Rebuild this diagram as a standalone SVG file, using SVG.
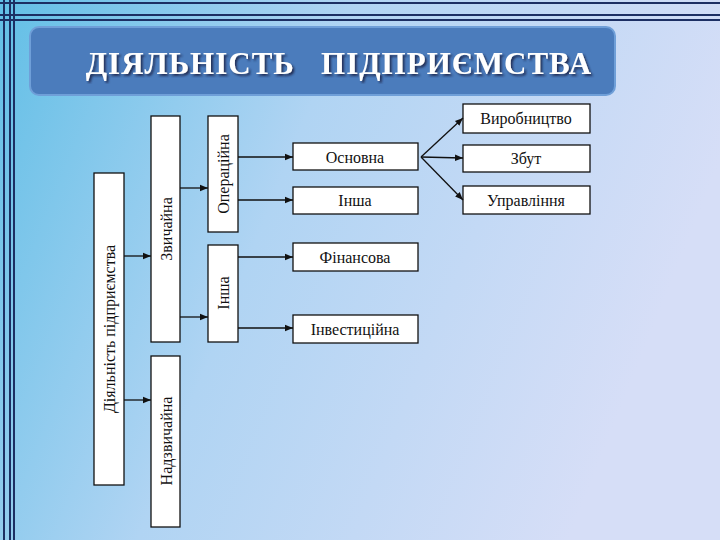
<svg xmlns="http://www.w3.org/2000/svg" width="720" height="540" viewBox="0 0 720 540">
<defs>
<linearGradient id="bg" x1="0" y1="0" x2="1" y2="0.3">
<stop offset="0" stop-color="#62bfe6"/><stop offset="0.45" stop-color="#b0d4f3"/><stop offset="1" stop-color="#d6def7"/>
</linearGradient>
<marker id="ar" viewBox="0 0 10 10" refX="10" refY="5" markerWidth="8" markerHeight="8" orient="auto" markerUnits="userSpaceOnUse">
<path d="M0,1 L10,5 L0,9 z" fill="#111"/>
</marker>
<filter id="sh"><feDropShadow dx="2" dy="2" stdDeviation="1" flood-color="#1a2a50" flood-opacity="0.9"/></filter>
</defs>
<style>
.b{fill:#fff;stroke:#111;stroke-width:1.3}
.t{font-family:"Liberation Serif","Times New Roman",serif;font-size:16px;fill:#111;text-anchor:middle;dominant-baseline:central}
.c line{stroke:#111;stroke-width:1.3;marker-end:url(#ar)}
</style>
<rect width="720" height="540" fill="url(#bg)"/>
<g stroke="#1c2f63" stroke-width="2" fill="none">
<line x1="0" y1="3" x2="720" y2="3"/><line x1="0" y1="15" x2="720" y2="15"/>
<line x1="0" y1="20" x2="720" y2="20"/>
<line x1="4" y1="0" x2="4" y2="540"/><line x1="10" y1="0" x2="10" y2="540"/><line x1="14" y1="0" x2="14" y2="540"/>
</g>
<g id="title">
<rect x="30" y="27" width="585" height="68" rx="9" fill="#4b7cbc" stroke="#6f9fd8" stroke-width="2"/>
<text x="339" y="63" xml:space="preserve" font-family="'Liberation Serif',serif" font-weight="bold" font-size="31" letter-spacing="1" fill="#fff" text-anchor="middle" dominant-baseline="central" filter="url(#sh)">ДІЯЛЬНІСТЬ   ПІДПРИЄМСТВА</text>
</g>
<g id="n1"><rect class="b" x="94" y="173" width="30" height="312"/><text class="t" transform="translate(109,329) rotate(-90)">Діяльність підприємства</text></g>
<g id="n2"><rect class="b" x="151" y="116" width="29" height="226"/><text class="t" transform="translate(166,229) rotate(-90)">Звичайна</text></g>
<g id="n3"><rect class="b" x="151" y="356" width="29" height="171"/><text class="t" transform="translate(166,441) rotate(-90)">Надзвичайна</text></g>
<g id="n4"><rect class="b" x="208" y="116" width="30" height="116"/><text class="t" transform="translate(223,174) rotate(-90)">Операційна</text></g>
<g id="n5"><rect class="b" x="208" y="245" width="30" height="97"/><text class="t" transform="translate(223,293) rotate(-90)">Інша</text></g>
<g id="n6"><rect class="b" x="293" y="143" width="125" height="27"/><text class="t" x="355" y="157">Основна</text></g>
<g id="n7"><rect class="b" x="293" y="187" width="125" height="27"/><text class="t" x="355" y="200">Інша</text></g>
<g id="n8"><rect class="b" x="293" y="243" width="125" height="28"/><text class="t" x="355" y="257">Фінансова</text></g>
<g id="n9"><rect class="b" x="293" y="315" width="125" height="28"/><text class="t" x="355" y="329">Інвестиційна</text></g>
<g id="n10"><rect class="b" x="463" y="104" width="127" height="29"/><text class="t" x="526" y="118">Виробництво</text></g>
<g id="n11"><rect class="b" x="463" y="145" width="127" height="27"/><text class="t" x="526" y="158">Збут</text></g>
<g id="n12"><rect class="b" x="463" y="186" width="127" height="28"/><text class="t" x="526" y="200">Управління</text></g>
<g class="c" id="connectors">
<line x1="124" y1="256" x2="151" y2="256"/>
<line x1="124" y1="400" x2="151" y2="400"/>
<line x1="180" y1="188" x2="208" y2="188"/>
<line x1="180" y1="317" x2="208" y2="317"/>
<line x1="238" y1="157" x2="293" y2="157"/>
<line x1="238" y1="200" x2="293" y2="200"/>
<line x1="238" y1="257" x2="293" y2="257"/>
<line x1="238" y1="328" x2="293" y2="328"/>
<line x1="421" y1="157" x2="463" y2="118"/>
<line x1="421" y1="157" x2="463" y2="158"/>
<line x1="421" y1="157" x2="463" y2="200"/>
</g>
</svg>
